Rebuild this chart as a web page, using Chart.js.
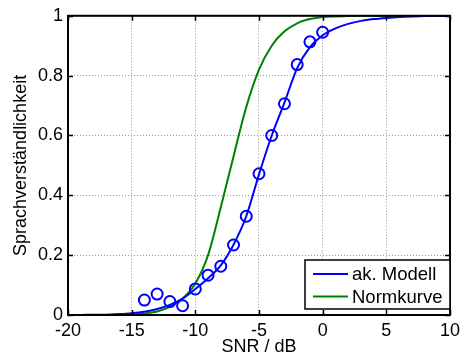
<!DOCTYPE html>
<html>
<head>
<meta charset="utf-8">
<script src="https://cdn.jsdelivr.net/npm/chart.js@4.4.1/dist/chart.umd.min.js"></script>
<style>
  html, body { margin: 0; padding: 0; background: #fff; }
  canvas { display: block; }
</style>
</head>
<body>
<canvas id="snrChart" width="465" height="356"></canvas>
<script>
// SNR axis (dB) for the two fitted curves
const snr = [-20, -19, -18, -17, -16, -15, -14, -13, -12, -11, -10, -9, -8, -7, -6, -5,
             -4, -3, -2, -1, 0, 1, 2, 3, 4, 5, 6, 7, 8, 9, 10];
const akModell = [0.000, 0.000, 0.001, 0.001, 0.003, 0.006, 0.011, 0.020, 0.034, 0.055, 0.087,
                  0.123, 0.166, 0.235, 0.330, 0.470, 0.600, 0.710, 0.825, 0.895, 0.935,
                  0.958, 0.973, 0.983, 0.989, 0.993, 0.996, 0.998, 0.999, 1.000, 1.000];
const normkurve = [0.000, 0.000, 0.000, 0.000, 0.001, 0.002, 0.005, 0.012, 0.027, 0.055, 0.105,
                   0.200, 0.360, 0.530, 0.695, 0.820, 0.900, 0.948, 0.975, 0.989, 0.996,
                   0.998, 0.999, 1.000, 1.000, 1.000, 1.000, 1.000, 1.000, 1.000, 1.000];
// measured points
const messSnr = [-14, -13, -12, -11, -10, -9, -8, -7, -6, -5, -4, -3, -2, -1, 0];
const messWerte = [0.050, 0.070, 0.045, 0.031, 0.087, 0.133, 0.163, 0.234, 0.330, 0.472,
                   0.600, 0.706, 0.837, 0.913, 0.945];

const xTicks = [-20, -15, -10, -5, 0, 5, 10];
const yTicks = [0, 0.2, 0.4, 0.6, 0.8, 1];

const FONT = "'Liberation Sans', Arial, sans-serif";
const BLUE = "#0000ff";
const GREEN = "#008000";

const toPoints = (xs, ys) => xs.map((x, i) => ({ x: x, y: ys[i] }));

// frame, inward tick marks and the boxed legend (MATLAB look)
const matlabFrame = {
    id: "matlabFrame",
    afterDatasetsDraw(chart) {
        const ctx = chart.ctx;
        const a = chart.chartArea;
        const xs = chart.scales.x, ys = chart.scales.y;
        ctx.save();
        ctx.strokeStyle = "#000";
        ctx.lineWidth = 1.5;
        ctx.beginPath();
        xTicks.forEach(v => {
            const px = Math.round(xs.getPixelForValue(v)) + 0.5;
            ctx.moveTo(px, a.bottom); ctx.lineTo(px, a.bottom - 5);
            ctx.moveTo(px, a.top); ctx.lineTo(px, a.top + 5);
        });
        yTicks.forEach(v => {
            const py = Math.round(ys.getPixelForValue(v)) + 0.5;
            ctx.moveTo(a.left, py); ctx.lineTo(a.left + 5, py);
            ctx.moveTo(a.right, py); ctx.lineTo(a.right - 5, py);
        });
        ctx.stroke();
        ctx.lineWidth = 2;
        ctx.strokeRect(a.left, a.top, a.right - a.left, a.bottom - a.top);

        // legend
        const lines = chart.data.datasets.filter(d => d.showLine !== false);
        const bx = 305, by = 260, bw = 145, bh = 49;
        ctx.fillStyle = "#fff";
        ctx.fillRect(bx, by, bw, bh);
        ctx.lineWidth = 1.5;
        ctx.strokeStyle = "#000";
        ctx.strokeRect(bx, by, bw, bh);
        ctx.font = "18.5px " + FONT;
        ctx.textBaseline = "middle";
        ctx.textAlign = "left";
        lines.forEach((d, i) => {
            const y = by + 14 + i * 22.5;
            ctx.strokeStyle = d.borderColor;
            ctx.lineWidth = 2;
            ctx.beginPath();
            ctx.moveTo(bx + 8, y);
            ctx.lineTo(bx + 43, y);
            ctx.stroke();
            ctx.fillStyle = "#000";
            ctx.fillText(d.label, bx + 47, y + 1);
        });
        ctx.restore();
    }
};

const ctx = document.getElementById("snrChart").getContext("2d");
new Chart(ctx, {
    type: "line",
    data: {
        datasets: [{
            label: "Messwerte",
            data: toPoints(messSnr, messWerte),
            showLine: false,
            borderColor: BLUE,
            backgroundColor: "rgba(0,0,0,0)",
            pointStyle: "circle",
            pointRadius: 5.5,
            pointBorderWidth: 2
        }, {
            label: "ak. Modell",
            data: toPoints(snr, akModell),
            borderColor: BLUE,
            borderWidth: 2,
            pointRadius: 0,
            cubicInterpolationMode: "monotone"
        }, {
            label: "Normkurve",
            data: toPoints(snr, normkurve),
            borderColor: GREEN,
            borderWidth: 2,
            pointRadius: 0,
            cubicInterpolationMode: "monotone"
        }]
    },
    options: {
        responsive: false,
        animation: false,
        layout: { padding: { left: 0, top: 15, right: 11.5, bottom: 0 } },
        plugins: {
            legend: { display: false },
            tooltip: { enabled: false }
        },
        scales: {
            x: {
                type: "linear",
                min: -20,
                max: 10,
                afterFit: s => { s.height = 41; },
                afterBuildTicks: s => { s.ticks = xTicks.map(v => ({ value: v })); },
                ticks: {
                    color: "#000",
                    padding: 5,
                    maxRotation: 0,
                    font: { family: FONT, size: 18 }
                },
                grid: { color: "#9a9a9a", lineWidth: 1, drawTicks: false },
                border: { display: false, dash: [1, 2] },
                title: {
                    display: true,
                    text: "SNR / dB",
                    color: "#000",
                    padding: { top: 0, bottom: 0 },
                    font: { family: FONT, size: 18, lineHeight: 1 }
                }
            },
            y: {
                min: 0,
                max: 1,
                afterFit: s => { s.width = 68; },
                afterBuildTicks: s => { s.ticks = yTicks.map(v => ({ value: v })); },
                ticks: {
                    color: "#000",
                    padding: 5,
                    font: { family: FONT, size: 18 },
                    callback: v => String(v)
                },
                grid: { color: "#9a9a9a", lineWidth: 1, drawTicks: false },
                border: { display: false, dash: [1, 2] },
                title: {
                    display: true,
                    text: "Sprachverständlichkeit",
                    color: "#000",
                    padding: { top: 12, bottom: 0 },
                    font: { family: FONT, size: 18, lineHeight: 1 }
                }
            }
        }
    },
    plugins: [matlabFrame]
});
</script>
</body>
</html>
